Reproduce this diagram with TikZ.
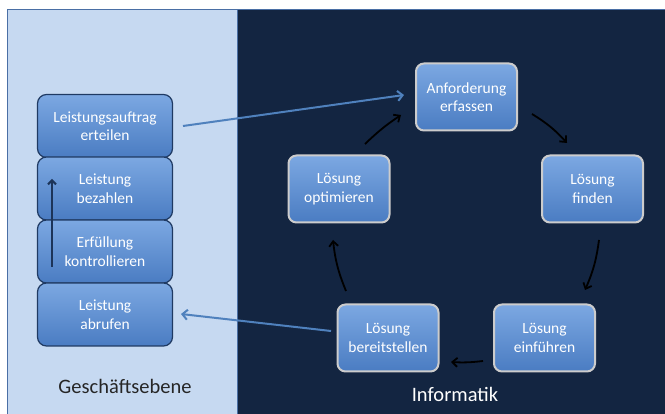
\documentclass[tikz,border=0pt]{standalone}
\usepackage{fontspec}
\setmainfont{Carlito}
\usetikzlibrary{arrows.meta,shadows}
\definecolor{lightpanel}{HTML}{C6D9F1}
\definecolor{darkpanel}{HTML}{132541}
\definecolor{panelline}{HTML}{4A6FA5}
\definecolor{boxtop}{HTML}{7CA8E2}
\definecolor{boxbot}{HTML}{4A7CC2}
\definecolor{boxline}{HTML}{1F3A63}
\definecolor{bluearrow}{HTML}{4F81BD}
\tikzset{
  lbox/.style={draw=boxline, line width=1.2pt, rounded corners=9pt, top color=boxtop, bottom color=boxbot,
    minimum width=135pt, minimum height=63pt, align=center, text=white, font=\fontsize{15.5}{18.5}\selectfont},
  rbox/.style={draw=gray!40, line width=2pt, rounded corners=8pt, top color=boxtop, bottom color=boxbot,
    minimum width=101pt, minimum height=67pt, align=center, text=white, font=\fontsize{15.5}{18.5}\selectfont},
  cyc/.style={black, line width=1.8pt, -{Straight Barb[length=5pt,width=9pt]}},
  blink/.style={bluearrow, line width=2pt, -{Straight Barb[length=5pt,width=10pt]}},
  panellabel/.style={font=\fontsize{20.5}{24}\selectfont}
}
\begin{document}
\begin{tikzpicture}[x=1pt,y=-1pt]
\useasboundingbox (0,0) rectangle (665,414);
\fill[white] (0,0) rectangle (665,414);
% panels
\draw[fill=lightpanel, draw=panelline, line width=1pt] (7,10) rectangle (237,416);
\draw[fill=darkpanel, draw=panelline, line width=1pt] (237,10) rectangle (666,416);
\node[panellabel, text=black!85] (geschaeft) at (125,386) {Geschäftsebene};
\node[panellabel, text=white] (info) at (455,394) {Informatik};
% left stack
\node[lbox] (auftrag) at (105,126) {Leistungsauftrag\\erteilen};
\node[lbox] (bezahlen) at (105,188.5) {Leistung\\bezahlen};
\node[lbox] (kontrolle) at (105,251.5) {Erfüllung\\kontrollieren};
\node[lbox] (abrufen) at (105,314.5) {Leistung\\abrufen};
\coordinate (up1) at (52,267);
\coordinate (up2) at (52,179);
\draw[boxline!90!black, line width=2pt, -{Straight Barb[length=4pt,width=8pt]}] (up1) -- (up2);
% right cycle
\node[rbox] (anf) at (466.5,97) {Anforderung\\erfassen};
\node[rbox] (finden) at (592.5,189) {Lösung\\finden};
\node[rbox] (einf) at (544.5,338) {Lösung\\einführen};
\node[rbox] (bereit) at (388,338) {Lösung\\bereitstellen};
\node[rbox] (opt) at (339,189) {Lösung\\optimieren};
% cycle arrow coordinates
\coordinate (a1s) at (532,114); \coordinate (a1e) at (567,143);
\coordinate (a2s) at (599,240); \coordinate (a2e) at (585,290);
\coordinate (a3s) at (483,361); \coordinate (a3e) at (451,362);
\coordinate (a4s) at (346,291); \coordinate (a4e) at (333,240);
\coordinate (a5s) at (365,144); \coordinate (a5e) at (401,115);
\draw[cyc] (a1s) to[bend left=8] (a1e);
\draw[cyc] (a2s) to[bend left=8] (a2e);
\draw[cyc] (a3s) to[bend left=5] (a3e);
\draw[cyc] (a4s) to[bend left=8] (a4e);
\draw[cyc] (a5s) to[bend left=5] (a5e);
% links between levels
\coordinate (b1s) at (183,126); \coordinate (b1e) at (404,95);
\coordinate (b2s) at (331,331); \coordinate (b2e) at (181,314);
\draw[blink] (b1s) -- (b1e);
\draw[blink] (b2s) -- (b2e);
\end{tikzpicture}
\end{document}
